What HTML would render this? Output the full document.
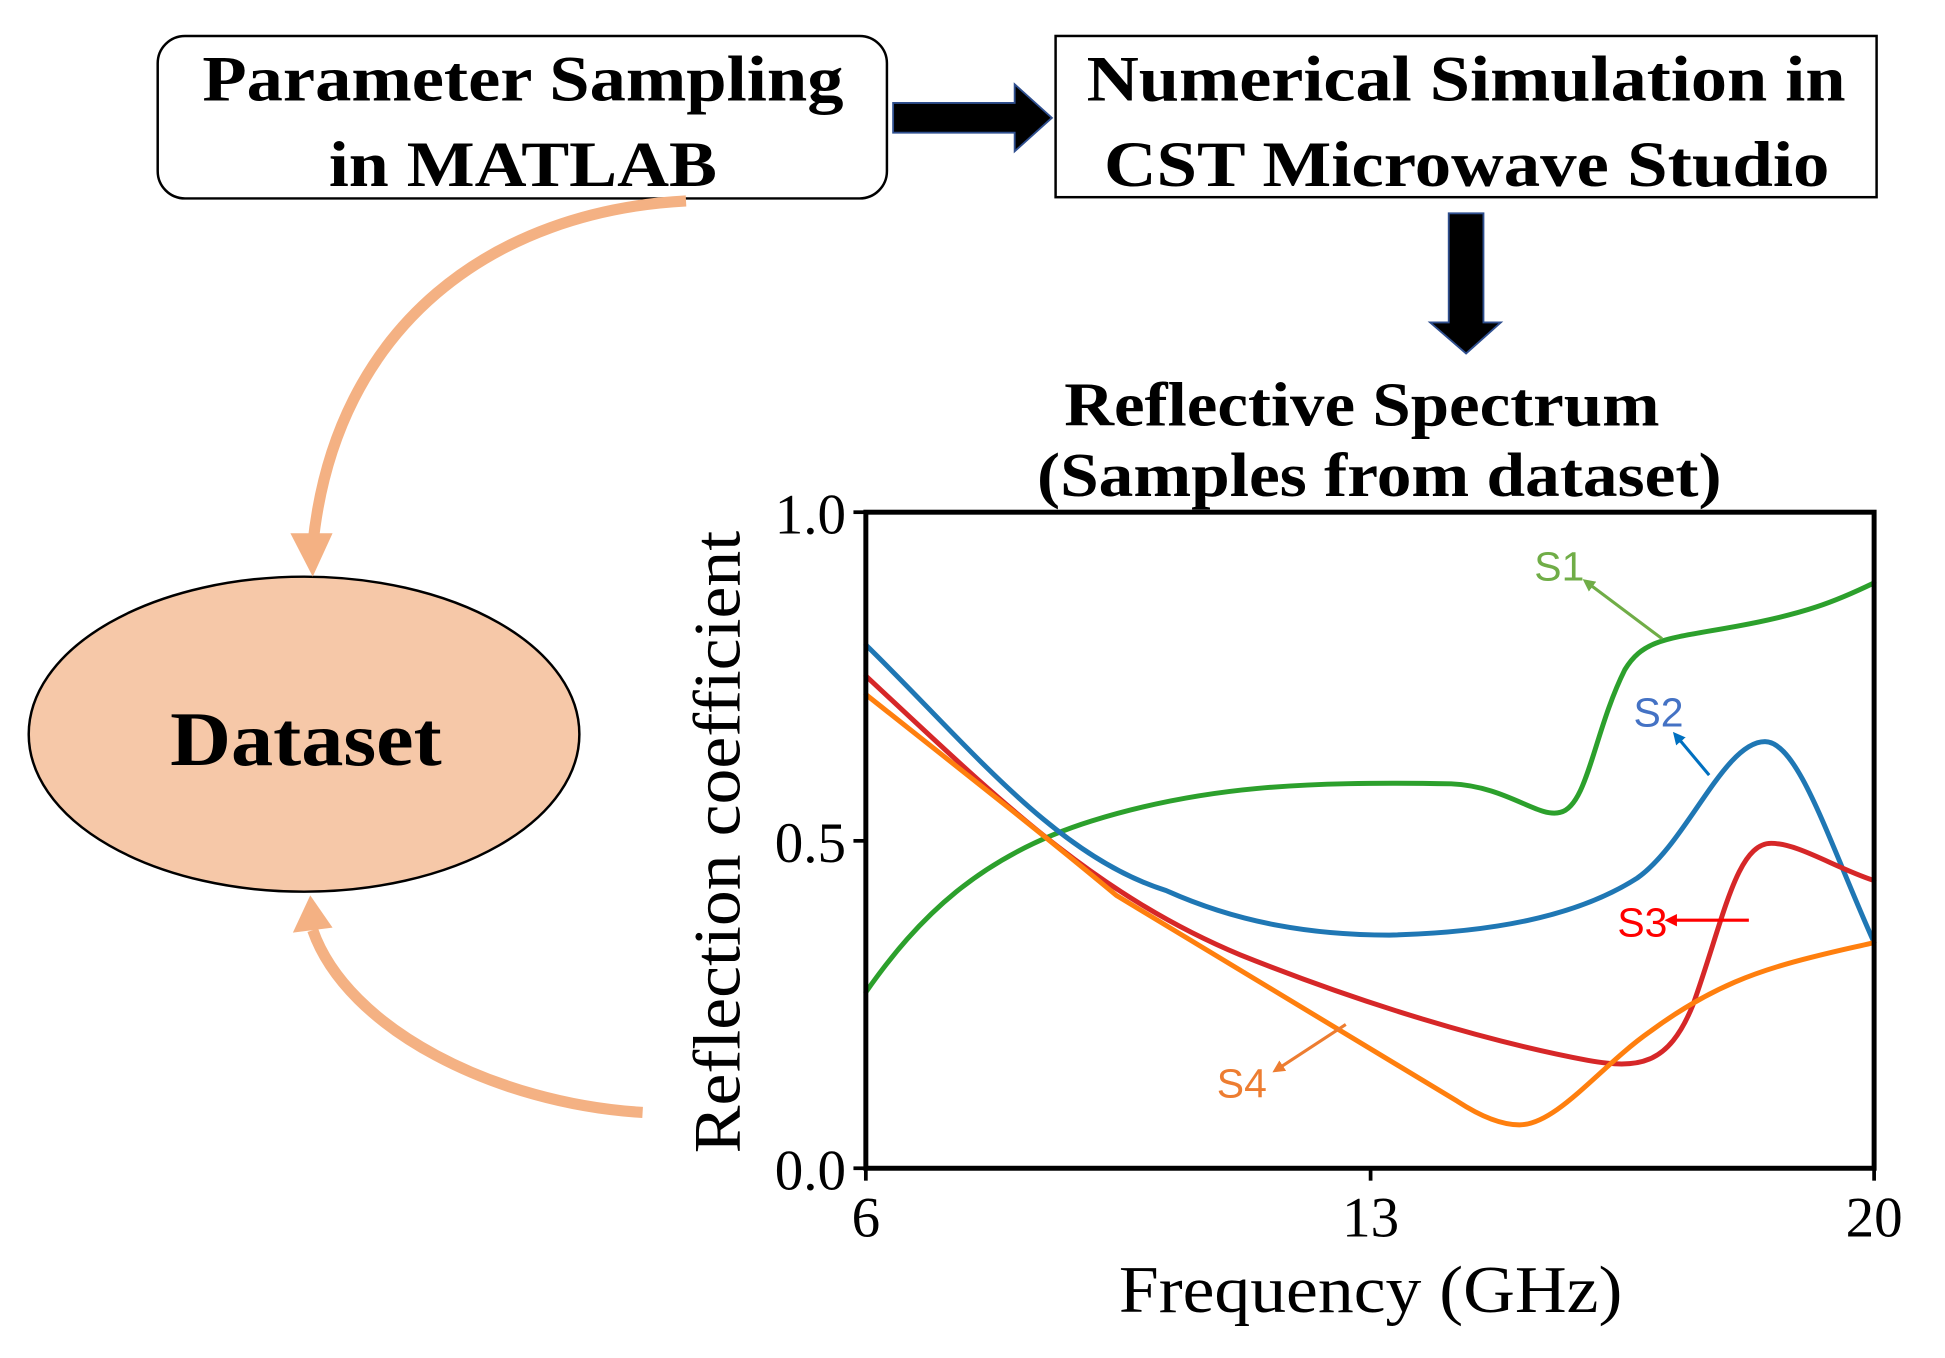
<!DOCTYPE html>
<html><head><meta charset="utf-8"><style>html,body{margin:0;padding:0;background:#fff}svg{display:block}</style></head>
<body>
<svg width="1945" height="1358" viewBox="0 0 1568 1095" xmlns="http://www.w3.org/2000/svg">
<defs>
<marker id="ah" markerWidth="10" markerHeight="10" refX="5" refY="5" orient="auto" markerUnits="userSpaceOnUse" viewBox="0 0 10 10"><path d="M0,0 L10,5 L0,10 z" fill="context-stroke"/></marker>
</defs>
<g font-family="Liberation Serif, serif" font-weight="bold" fill="#000">
<rect x="127" y="29" width="588" height="131" rx="22" fill="#fff" stroke="#000" stroke-width="2"/>
<text x="163" y="81" font-size="52" textLength="517" lengthAdjust="spacingAndGlyphs">Parameter Sampling</text>
<text x="265" y="150" font-size="52" textLength="313" lengthAdjust="spacingAndGlyphs">in MATLAB</text>
<rect x="851" y="29" width="662" height="130" fill="#fff" stroke="#000" stroke-width="2"/>
<text x="876" y="81" font-size="52" textLength="612" lengthAdjust="spacingAndGlyphs">Numerical Simulation in</text>
<text x="890" y="150" font-size="52" textLength="585" lengthAdjust="spacingAndGlyphs">CST Microwave Studio</text>
<text x="858" y="343" font-size="50" textLength="480" lengthAdjust="spacingAndGlyphs">Reflective Spectrum</text>
<text x="836" y="400" font-size="50" textLength="552" lengthAdjust="spacingAndGlyphs">(Samples from dataset)</text>
</g>
<path d="M720,83 L818,83 L818,68 L848,95 L818,122 L818,107 L720,107 Z" fill="#000" stroke="#2f4f8f" stroke-width="1.5"/>
<path d="M1168,172 L1196,172 L1196,260 L1210,260 L1182,285 L1153,260 L1168,260 Z" fill="#000" stroke="#2f4f8f" stroke-width="1.5"/>
<ellipse cx="245" cy="592" rx="222" ry="127" fill="#f6c8a8" stroke="#000" stroke-width="2"/>
<text x="137" y="617" font-family="Liberation Serif, serif" font-weight="bold" font-size="62" textLength="219" lengthAdjust="spacingAndGlyphs">Dataset</text>
<path d="M553,162 C400,170 270,260 252,440" fill="none" stroke="#f4b183" stroke-width="9"/>
<path d="M234,430 L252,465 L268,430 Z" fill="#f4b183"/>
<path d="M518,897 C400,890 280,830 252,750" fill="none" stroke="#f4b183" stroke-width="9"/>
<path d="M236,752 L250,722 L268,748 Z" fill="#f4b183"/>
<g fill="none" stroke-width="4" stroke-linejoin="round" stroke-linecap="round">
<path stroke="#2ca02c" d="M698,800 C740,740 790,690 880,662 S1050,630 1170,632 C1215,634 1240,660 1258,655 C1280,650 1285,590 1310,540 C1325,515 1345,515 1400,505 S1480,485 1511,470"/>
<path stroke="#1f77b4" d="M698,520 C780,600 850,690 940,718 C1000,745 1060,754 1120,754 C1200,752 1270,740 1320,708 C1360,680 1390,598 1423,598 C1450,598 1475,680 1511,760"/>
<path stroke="#d62728" d="M698,545 C800,640 880,720 1000,770 C1100,810 1200,840 1280,855 C1320,862 1345,860 1365,810 C1390,740 1400,680 1428,680 C1450,680 1480,700 1511,710"/>
<path stroke="#ff7f0e" d="M698,560 C780,625 850,680 900,722 L1175,888 C1195,901 1212,907 1225,907 C1255,907 1290,860 1330,832 C1380,795 1420,782 1460,772 S1500,763 1511,760"/>
</g>
<g stroke-width="2.5" fill="none">
<line x1="1340" y1="515" x2="1280" y2="470" stroke="#70ad47" marker-end="url(#ah)"/>
<line x1="1378" y1="625" x2="1352" y2="594" stroke="#0070c0" marker-end="url(#ah)"/>
<line x1="1410" y1="742" x2="1347" y2="742" stroke="#ff0000" marker-end="url(#ah)"/>
<line x1="1085" y1="826" x2="1030" y2="862" stroke="#ed7d31" marker-end="url(#ah)"/>
</g>
<g font-family="Liberation Sans, sans-serif" font-size="33">
<text x="1237" y="468" fill="#70ad47">S1</text>
<text x="1317" y="586" fill="#4472c4">S2</text>
<text x="1304" y="755" fill="#ff0000">S3</text>
<text x="981" y="885" fill="#ed7d31">S4</text>
</g>
<rect x="698" y="413" width="813" height="529" fill="none" stroke="#000" stroke-width="4"/>
<g stroke="#000" stroke-width="3">
<line x1="688" y1="413" x2="698" y2="413"/><line x1="688" y1="678" x2="698" y2="678"/><line x1="688" y1="942" x2="698" y2="942"/>
<line x1="698" y1="942" x2="698" y2="952"/><line x1="1105" y1="942" x2="1105" y2="952"/><line x1="1511" y1="942" x2="1511" y2="952"/>
</g>
<g font-family="Liberation Serif, serif" font-size="46" fill="#000">
<text x="682" y="430" text-anchor="end">1.0</text>
<text x="682" y="695" text-anchor="end">0.5</text>
<text x="682" y="959" text-anchor="end">0.0</text>
<text x="698" y="997" text-anchor="middle">6</text>
<text x="1105" y="997" text-anchor="middle">13</text>
<text x="1511" y="997" text-anchor="middle">20</text>
<text x="902" y="1058" font-size="54" textLength="406" lengthAdjust="spacingAndGlyphs">Frequency (GHz)</text>
<text transform="translate(596,930) rotate(-90)" font-size="54" textLength="502" lengthAdjust="spacingAndGlyphs">Reflection coefficient</text>
</g>
</svg>
</body></html>
